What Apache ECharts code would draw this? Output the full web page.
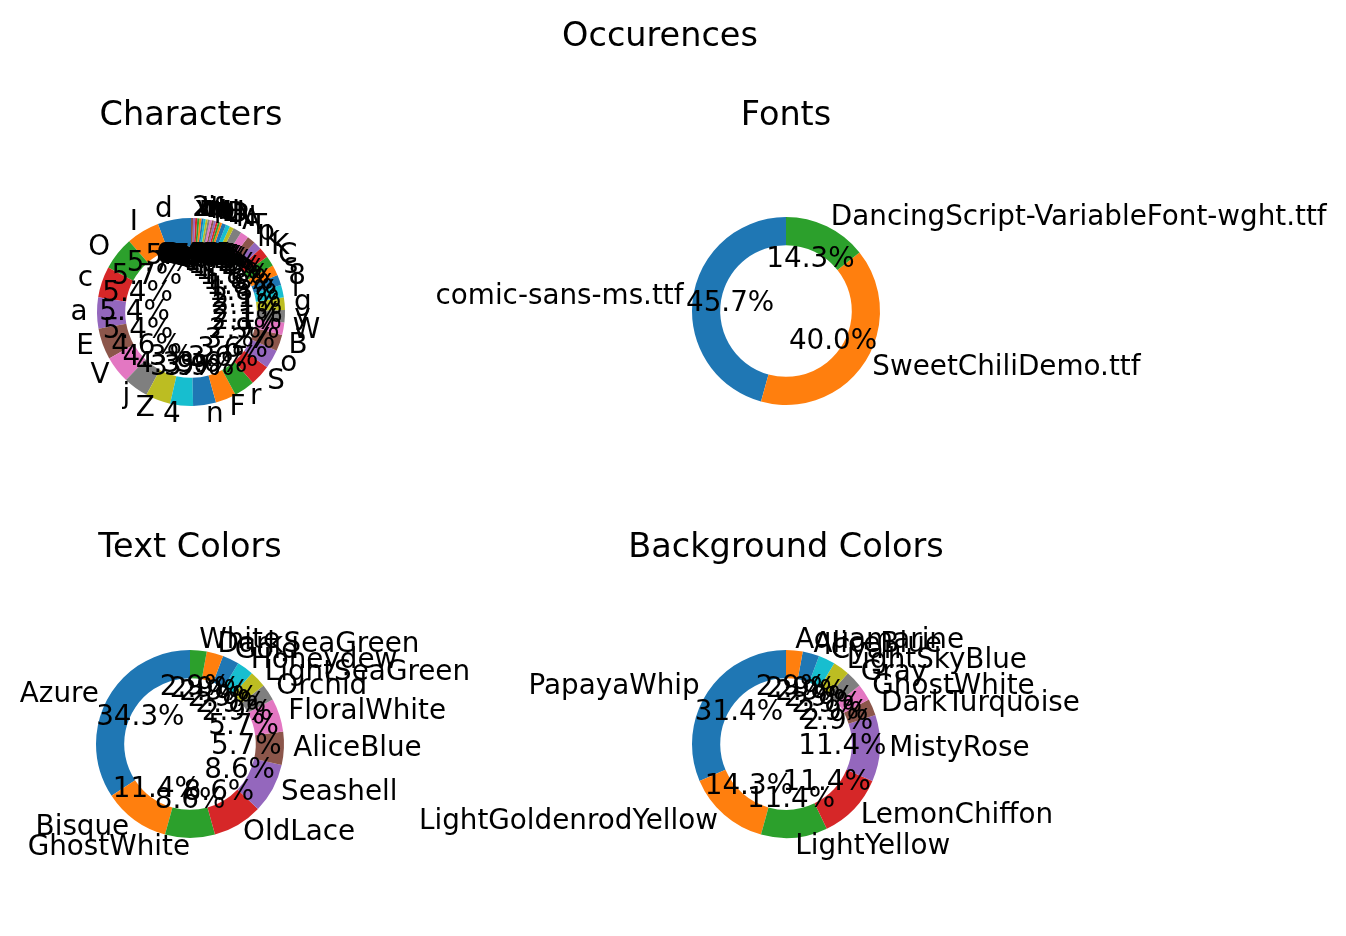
<!DOCTYPE html>
<html><head><meta charset="utf-8">
<script src="https://cdn.jsdelivr.net/npm/echarts@6/dist/echarts.min.js"></script>
<style>html,body{margin:0;padding:0;background:#fff}#c{width:1346px;height:936px}</style>
</head><body><div id="c"></div>
<script>
// ---- data ----
const charLabels = ['d','I','O','c','a','E','V','j','Z','4','n','F','r','S','o','B','W','y','g','l','8','s','C','K','k','p','T','A','N','R','D','H','L','U','b','e','f','h','i','m','q','t','u','w','x','2'];
const charCounts = [16,16,16,15,15,15,13,12,12,11,11,10,10,10,9,8,6,6,6,6,5,5,5,5,4,4,4,4,2,2,2,1,1,1,1,1,1,1,1,1,1,1,1,1,1,1];
const fontLabels = ['comic-sans-ms.ttf','SweetChiliDemo.ttf','DancingScript-VariableFont-wght.ttf'];
const fontCounts = [16,14,5];
const textColorLabels = ['Azure','Bisque','GhostWhite','OldLace','Seashell','AliceBlue','FloralWhite','Orchid','LightSeaGreen','Honeydew','Gold','DarkSeaGreen','White'];
const textColorCounts = [12,4,3,3,3,2,2,1,1,1,1,1,1];
const bgColorLabels = ['PapayaWhip','LightGoldenrodYellow','LightYellow','LemonChiffon','MistyRose','DarkTurquoise','GhostWhite','Gray','LightSkyBlue','Cyan','AliceBlue','Aquamarine'];
const bgColorCounts = [11,5,4,4,4,1,1,1,1,1,1,1];
const mainTitle = 'Occurences';
const subTitles = ['Characters','Fonts','Text Colors','Background Colors'];

// ---- style ----
const tab10 = ['#1f77b4','#ff7f0e','#2ca02c','#d62728','#9467bd','#8c564b','#e377c2','#7f7f7f','#bcbd22','#17becf'];
const FONT = 'DejaVu Sans';
const LBL = 27.8, TTL = 33.5;
const R = 94;
const panels = [
  {labels: charLabels, counts: charCounts, cx: 191, cy: 312, tx: 191, ty: 116},
  {labels: fontLabels, counts: fontCounts, cx: 786, cy: 311, tx: 786, ty: 116},
  {labels: textColorLabels, counts: textColorCounts, cx: 190, cy: 744, tx: 190, ty: 548},
  {labels: bgColorLabels, counts: bgColorCounts, cx: 786, cy: 744, tx: 786, ty: 548}
];

const series = [];
const graphic = [{type:'text', x: 660, y: 37, style:{text: mainTitle, font: TTL+'px "'+FONT+'"', fill:'#000', textAlign:'center', textVerticalAlign:'middle'}}];

panels.forEach((p, pi) => {
  const total = p.counts.reduce((a,b)=>a+b,0);
  // matplotlib-style horizontal alignment: left if label x > 0, else right
  const aligns = [];
  let cum = 0;
  p.counts.forEach(v => {
    const mid = (90 + (cum + v/2)/total*360) * Math.PI/180;
    aligns.push(Math.cos(mid) > 0 ? 'left' : 'right');
    cum += v;
  });
  const data = p.labels.map((l,i)=>({name:l, value:p.counts[i], itemStyle:{color: tab10[i%10]}}));
  series.push({
    type:'pie', center:[p.cx,p.cy], radius:[R*0.7, R],
    startAngle:90, clockwise:false, avoidLabelOverlap:false, animation:false,
    emphasis:{disabled:true}, silent:true,
    itemStyle:{borderWidth:0},
    label:{show:true, position:'outside', color:'#000', fontFamily:FONT, fontSize:LBL, distanceToLabelLine:0, formatter:'{b}', overflow:'none'},
    labelLine:{show:false, length:R*0.1, length2:0},
    labelLayout:(params)=>({hideOverlap:false, align: aligns[params.dataIndex]}),
    data: data
  });
  const pr = R*0.6 - 3;
  series.push({
    type:'pie', center:[p.cx,p.cy], radius:[pr-10, pr+10],
    startAngle:90, clockwise:false, avoidLabelOverlap:false, animation:false,
    emphasis:{disabled:true}, silent:true, z:5,
    itemStyle:{color:'rgba(0,0,0,0)', borderWidth:0},
    label:{show:true, position:'inside', color:'#000', fontFamily:FONT, fontSize:LBL, overflow:'none',
      formatter: (q)=> (q.value/total*100).toFixed(1)+'%'},
    labelLine:{show:false},
    labelLayout:{hideOverlap:false},
    data: p.counts.map((v,i)=>({name:p.labels[i], value:v}))
  });
  graphic.push({type:'text', x:p.tx, y:p.ty, style:{text: subTitles[pi], font: TTL+'px "'+FONT+'"', fill:'#000', textAlign:'center', textVerticalAlign:'middle'}});
});

const chart = echarts.init(document.getElementById('c'), null, {renderer:'canvas'});
chart.setOption({animation:false, backgroundColor:'#fff', series: series, graphic: graphic});
</script>
</body></html>
